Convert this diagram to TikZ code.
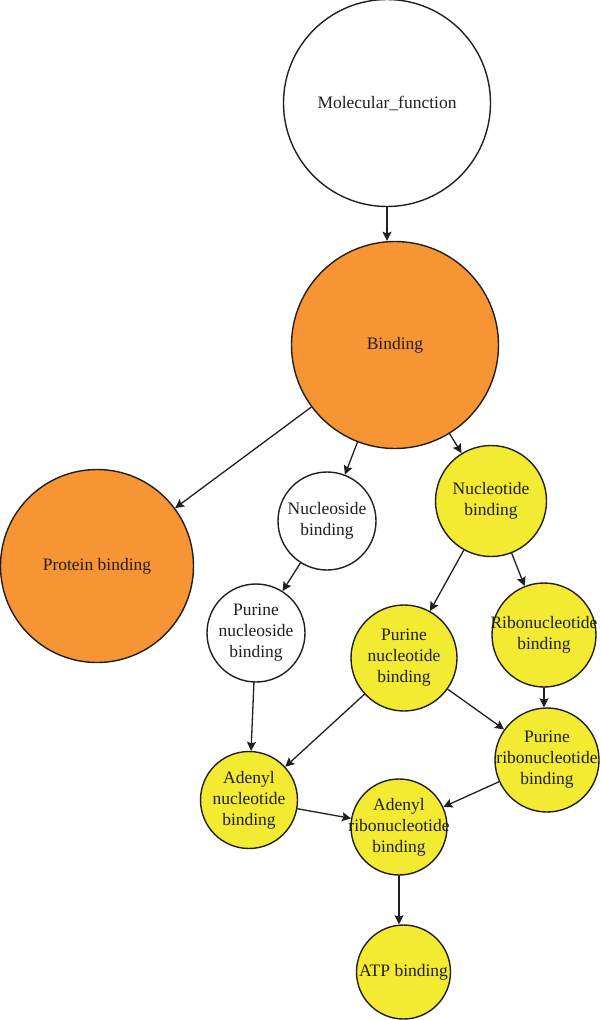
\documentclass[tikz,border=0pt]{standalone}
\usepackage{fontspec}
\setmainfont{Liberation Serif}
\usetikzlibrary{arrows.meta}
\definecolor{cam}{RGB}{247,148,51}
\definecolor{vang}{RGB}{242,235,50}
\definecolor{muc}{RGB}{35,31,32}
\begin{document}
\begin{tikzpicture}[x=1pt,y=-1pt,>={Stealth[length=9pt,width=9pt,inset=1.5pt]},
        font=\fontsize{17.5}{21}\selectfont, line join=round, line cap=round,
        term/.style={circle,draw=muc,line width=1.4pt,inner sep=0pt,minimum size=#1},
        tx/.style={align=center,text=muc,inner sep=0pt},
        edge/.style={->,draw=muc,line width=1.3pt}]
    \useasboundingbox (0,0) rectangle (600,1020);
    % cac nut
    \node[term=207,fill=white,label={[tx]center:Molecular\_function}] (mf) at (387,103) {};
    \node[term=207,fill=cam,label={[tx]center:Binding}] (bind) at (395,345) {};
    \node[term=193,fill=cam,label={[tx]center:Protein binding}] (prot) at (97,566) {};
    \node[term=98,fill=white,label={[tx]center:Nucleoside\\binding}] (nside) at (327,521) {};
    \node[term=111,fill=vang,label={[tx]center:Nucleotide\\binding}] (ntide) at (491,501) {};
    \node[term=98,fill=white,label={[tx]center:Purine\\nucleoside\\binding}] (pnside) at (256,633) {};
    \node[term=104,fill=vang,label={[tx]center:Ribonucleotide\\binding}] (ribo) at (544,635) {};
    \node[term=106,fill=vang,label={[tx]center:Purine\\nucleotide\\binding}] (pntide) at (404,658) {};
    \node[term=104,fill=vang,label={[tx]center:Purine\\ribonucleotide\\binding}] (pribo) at (547,760) {};
    \node[term=97,fill=vang,label={[tx]center:Adenyl\\nucleotide\\binding}] (aden) at (249,800) {};
    \node[term=96,fill=vang,label={[tx]center:Adenyl\\ribonucleotide\\binding}] (aribo) at (399,827) {};
    \node[term=94,fill=vang,label={[tx]center:ATP binding}] (atp) at (403.5,972) {};
    % cac mui ten
    \foreach \a/\b in {bind/prot, bind/nside, bind/ntide, nside/pnside,
            ntide/pntide, ntide/ribo, pnside/aden, pntide/aden, pntide/pribo,
            pribo/aribo, aden/aribo}
        \draw[edge] (\a) -- (\b);
    % mui ten thang dung
    \foreach \a/\b in {mf/bind, ribo/pribo, aribo/atp}
        \draw[edge] (\a.south) -- (\a.south |- \b.north);
\end{tikzpicture}
\end{document}
